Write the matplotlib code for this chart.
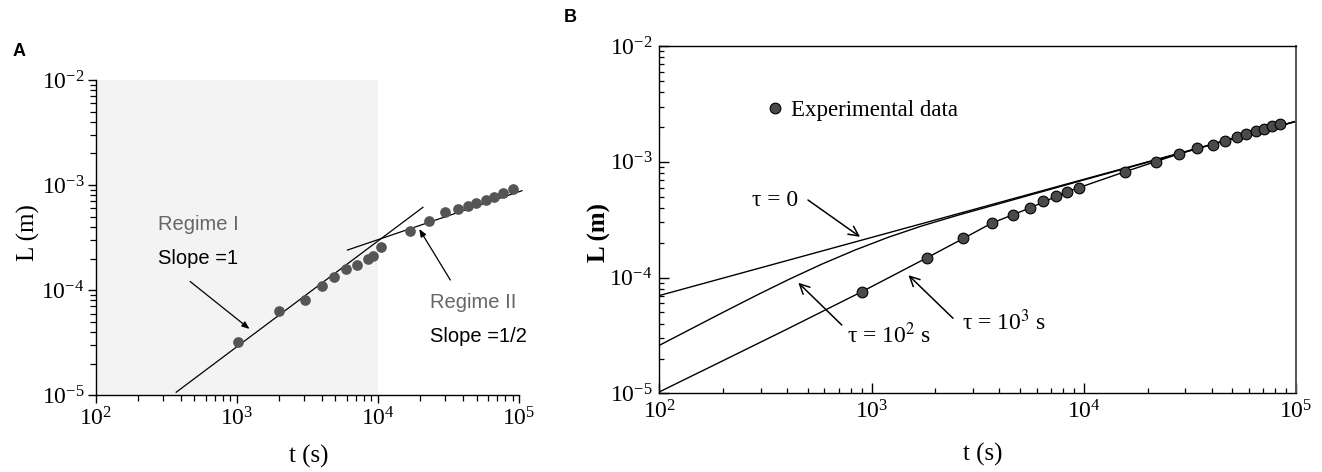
import matplotlib
matplotlib.use("Agg")
import matplotlib.pyplot as plt
from matplotlib.ticker import LogLocator, NullFormatter, LogFormatterSciNotation
from matplotlib.lines import Line2D

plt.rcParams['font.family'] = ['Liberation Serif', 'DejaVu Serif']
plt.rcParams['mathtext.fontset'] = 'stix'

# ---------------- Panel A data ----------------
tA = [1016, 1987, 3034, 4008, 4922, 5929, 7130, 8570, 9220, 10550,
      16870, 23130, 30000, 36700, 43230, 49800, 58350, 66500, 77100, 90100]
LA = [3.19e-5, 6.38e-5, 8.13e-5, 1.09e-4, 1.33e-4, 1.60e-4, 1.75e-4, 2.00e-4,
      2.10e-4, 2.58e-4, 3.68e-4, 4.58e-4, 5.51e-4, 5.93e-4, 6.37e-4, 6.71e-4,
      7.17e-4, 7.65e-4, 8.36e-4, 9.18e-4]
fit1_t = [372, 20840]
fit1_L = [1.07e-5, 6.15e-4]
fit2_t = [6080, 105000]
fit2_L = [2.41e-4, 8.85e-4]
shadeA = [1e2, 1e4]

# ---------------- Panel B data ----------------
tB = [906, 1833, 2711, 3680, 4645, 5585, 6450, 7400, 8310, 9530, 15600, 21830,
      28120, 34190, 40550, 46450, 52600, 58350, 65030, 70760, 76900, 84400]
LB = [7.55e-5, 1.486e-4, 2.18e-4, 2.98e-4, 3.49e-4, 3.99e-4, 4.59e-4, 5.04e-4,
      5.52e-4, 5.90e-4, 8.22e-4, 9.96e-4, 1.175e-3, 1.324e-3, 1.40e-3, 1.50e-3,
      1.63e-3, 1.75e-3, 1.83e-3, 1.92e-3, 2.04e-3, 2.13e-3]
tau0_t = [100, 100000]
tau0_L = [7.0e-5, 2.24e-3]
tau2_t = [100, 197, 290, 406, 582, 836, 1200, 1722, 2500, 3430, 10000, 100000]
tau2_L = [2.60e-5, 4.95e-5, 7.10e-5, 9.61e-5, 1.305e-4, 1.73e-4, 2.23e-4,
          2.79e-4, 3.42e-4, 4.02e-4, 6.97e-4, 2.235e-3]
tau3_t = [100, 200, 400, 906, 1833, 2711, 3680, 5585, 8310, 15600, 28120,
          52600, 100000]
tau3_L = [1.03e-5, 1.92e-5, 3.59e-5, 7.6e-5, 1.49e-4, 2.18e-4, 2.95e-4,
          4.0e-4, 5.5e-4, 8.2e-4, 1.17e-3, 1.63e-3, 2.23e-3]

xlim = (1e2, 1e5)
ylim = (1e-5, 1e-2)

fig = plt.figure(figsize=(13.22, 4.72), dpi=100)
axA = fig.add_axes([0.0724, 0.1625, 0.3202, 0.668])
axB = fig.add_axes([0.4987, 0.1665, 0.4816, 0.736])

for ax in (axA, axB):
    ax.set_xscale('log')
    ax.set_yscale('log')
    ax.set_xlim(*xlim)
    ax.set_ylim(*ylim)
    for axis in (ax.xaxis, ax.yaxis):
        axis.set_major_locator(LogLocator(base=10, numticks=10))
        axis.set_minor_locator(LogLocator(base=10, subs=range(2, 10), numticks=10))
        axis.set_major_formatter(LogFormatterSciNotation())
        axis.set_minor_formatter(NullFormatter())

# ---------------- Panel A ----------------
axA.axvspan(shadeA[0], shadeA[1], color='#f3f3f3', lw=0, zorder=0)
axA.plot(fit1_t, fit1_L, color='black', lw=0.9, zorder=2)
axA.plot(fit2_t, fit2_L, color='black', lw=0.9, zorder=2, clip_on=False)
axA.plot(tA, LA, 'o', ms=7.7, mfc='#555555', mec='none', zorder=3)
axA.spines['top'].set_visible(False)
axA.spines['right'].set_visible(False)
for s in ('left', 'bottom'):
    axA.spines[s].set_linewidth(1.0)
axA.tick_params(which='major', direction='out', length=6, width=1.0, labelsize=17)
axA.tick_params(which='minor', direction='out', length=4, width=0.9)
axA.tick_params(axis='x', which='major', pad=3)
axA.tick_params(axis='y', which='major', pad=2)
axA.set_xlabel('t (s)', fontsize=18)
axA.set_ylabel('L (m)', fontsize=18)
axA.xaxis.set_label_coords(0.504, -0.158)
axA.xaxis.label.set_va('top')
axA.yaxis.set_label_coords(-0.131, 0.515)

sans = ['Liberation Sans', 'DejaVu Sans']
axA.text(277, 3.74e-4, 'Regime I', family=sans, fontsize=14.5, color='#666666', va='baseline')
axA.text(277, 1.76e-4, 'Slope =1', family=sans, fontsize=14.5, color='black', va='baseline')
axA.text(23500, 6.73e-5, 'Regime II', family=sans, fontsize=14.5, color='#666666', va='baseline')
axA.text(23500, 3.19e-5, 'Slope =1/2', family=sans, fontsize=14.5, color='black', va='baseline')
axA.annotate('', xy=(1230, 4.28e-5), xytext=(467, 1.21e-4),
             arrowprops=dict(arrowstyle='-|>,head_length=0.45,head_width=0.18',
                             color='black', lw=0.9, shrinkA=0, shrinkB=0))
axA.annotate('', xy=(19630, 3.82e-4), xytext=(32600, 1.25e-4),
             arrowprops=dict(arrowstyle='-|>,head_length=0.45,head_width=0.18',
                             color='black', lw=0.9, shrinkA=0, shrinkB=0),
             annotation_clip=False)

# ---------------- Panel B ----------------
axB.plot(tau0_t, tau0_L, color='black', lw=1.0, zorder=2)
axB.plot(tau2_t, tau2_L, color='black', lw=1.0, zorder=2)
axB.plot(tau3_t, tau3_L, color='black', lw=1.0, zorder=2)
axB.plot(tB, LB, 'o', ms=7.7, mfc='#4a4a4a', mec='black', mew=0.8, zorder=3)
for s in ('left', 'bottom', 'top'):
    axB.spines[s].set_linewidth(1.0)
axB.spines['right'].set_color('#555555')
axB.spines['right'].set_linewidth(1.4)
axB.tick_params(which='major', direction='in', length=7, width=1.0, labelsize=17)
axB.tick_params(which='minor', direction='in', length=3.5, width=0.9)
axB.tick_params(axis='x', which='major', pad=5)
axB.tick_params(axis='y', which='major', pad=5)
axB.set_xlabel('t (s)', fontsize=18)
axB.set_ylabel('L (m)', fontsize=18, fontweight='bold')
axB.xaxis.set_label_coords(0.508, -0.143)
axB.xaxis.label.set_va('top')
axB.yaxis.set_label_coords(-0.076, 0.462)

handle = Line2D([], [], ls='none', marker='o', ms=7.7, mfc='#4a4a4a', mec='black', mew=0.8)
axB.legend([handle], ['Experimental data'], loc='center left',
           bbox_to_anchor=(0.168, 0.815), frameon=False, fontsize=16.5,
           borderpad=0, borderaxespad=0, handlelength=0.8, handletextpad=0.27)

axB.text(274, 4.68e-4, 'τ = 0', fontsize=17, va='center')
axB.text(764, 3.19e-5, 'τ = 10$^2$ s', fontsize=17, va='center')
axB.text(2680, 4.14e-5, 'τ = 10$^3$ s', fontsize=17, va='center')
arrB = dict(arrowstyle='->,head_length=0.7,head_width=0.35', color='black',
            lw=1.1, shrinkA=0, shrinkB=0)
axB.annotate('', xy=(883, 2.25e-4), xytext=(502, 4.68e-4), arrowprops=arrB)
axB.annotate('', xy=(452, 9.03e-5), xytext=(724, 3.90e-5), arrowprops=arrB)
axB.annotate('', xy=(1493, 1.05e-4), xytext=(2420, 4.46e-5), arrowprops=arrB)

# panel letters
fig.text(13 / 1322, 1 - 51 / 472, 'A', family=sans, fontweight='bold', fontsize=13, va='center')
fig.text(564 / 1322, 1 - 17 / 472, 'B', family=sans, fontweight='bold', fontsize=13, va='center')

fig.savefig('out.png', dpi=100)
